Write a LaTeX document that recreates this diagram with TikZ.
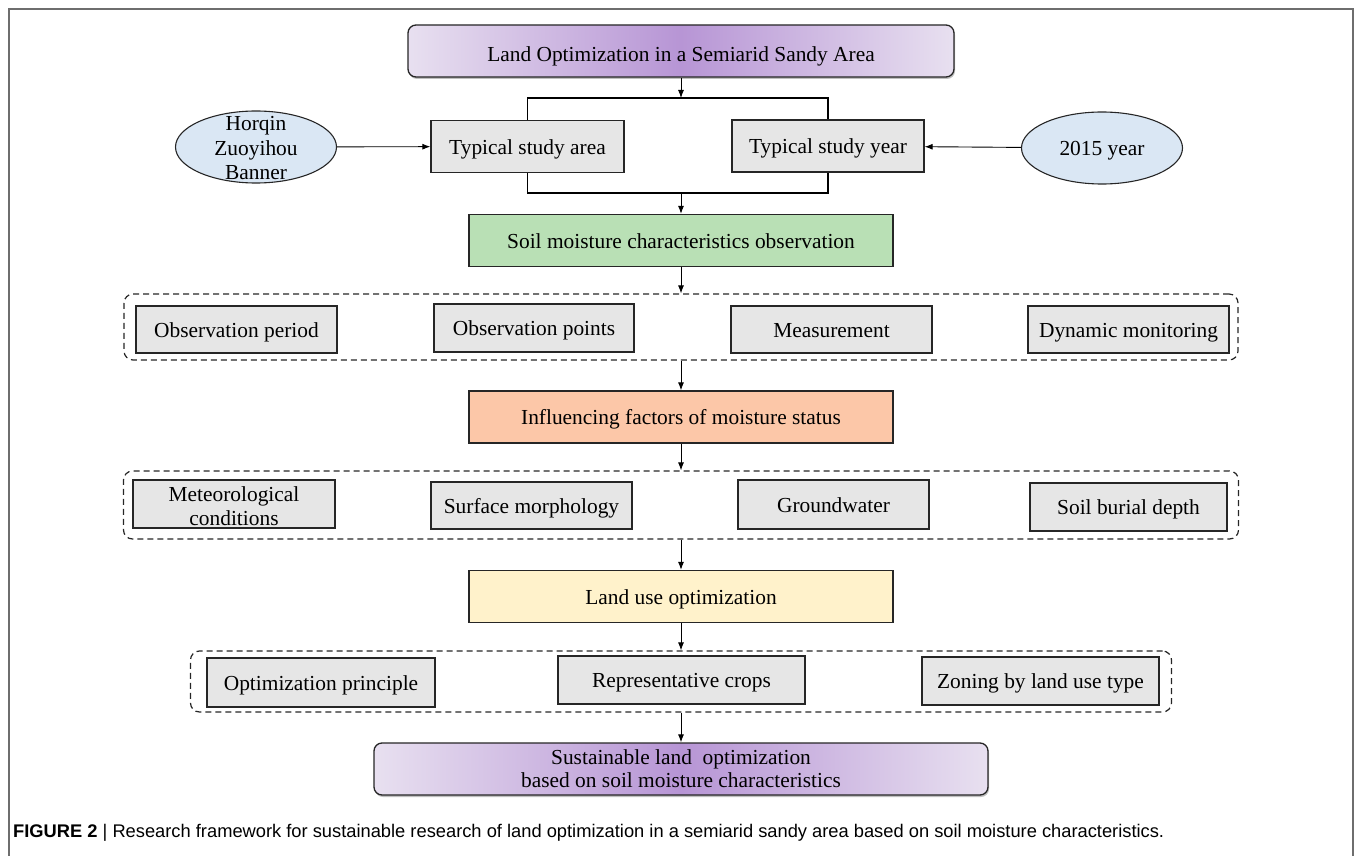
\documentclass[tikz,border=0pt]{standalone}
\usepackage{fontspec}
\setmainfont{Liberation Serif}
\newfontfamily\capfont{Liberation Sans}
\usetikzlibrary{arrows.meta,shapes.geometric,shadows}
\tikzset{>={Latex[length=8pt,width=6pt]}}

\definecolor{boxgray}{HTML}{E6E6E6}
\definecolor{soilgreen}{HTML}{B9E0B5}
\definecolor{factorange}{HTML}{FCC7A8}
\definecolor{landyellow}{HTML}{FFF2CB}
\definecolor{siteblue}{HTML}{DAE7F4}
\definecolor{purpedge}{HTML}{E8E0F0}
\definecolor{purpmid}{HTML}{B795D5}
\definecolor{framegray}{HTML}{6E6E6E}

\tikzset{
  txt/.style={font=\fontsize{21.4}{24}\selectfont},
  item/.style={txt, draw=black!85, line width=1.3pt, fill=boxgray, inner sep=0pt, align=center,
    text height=19pt, text depth=4pt},
  stage/.style={item, minimum width=424, minimum height=52},
  title/.style={txt, draw=black!85, line width=1.3pt, rounded corners=8pt,
    left color=purpedge, right color=purpedge, middle color=purpmid,
    inner sep=0pt, align=center,
    drop shadow={shadow xshift=1pt, shadow yshift=-2pt, opacity=0.5}},
  site/.style={txt, ellipse, draw=black!85, line width=1.1pt, fill=siteblue,
    minimum width=161, minimum height=72, inner sep=0pt},
  group/.style={draw=black!85, line width=1.2pt, dash pattern=on 6pt off 4pt,
    rounded corners=9pt, inner sep=0pt},
  arr/.style={->, line width=0.9pt},
  link/.style={line width=1.3pt}
}

\begin{document}
\begin{tikzpicture}[x=1pt, y=-1pt]
    \useasboundingbox (0,0) rectangle (1355,856);

    % Frame
    \draw[framegray, line width=1.5pt] (9,856) -- (9,9) -- (1353,9) -- (1353,856);

    % Heading
    \node[title, minimum width=546, minimum height=52, text height=25pt, text depth=4pt] (top) at (681,51)
        {Land Optimization in a Semiarid Sandy Area};

    % Typical study area and year
    \node[item, minimum width=193, minimum height=52] (area) at (527.5,146.5) {Typical study area};
    \node[item, minimum width=192, minimum height=52] (year) at (828,146) {Typical study year};
    \node[site] (horqin) at (256,147) {};
    \node[txt, align=center, font=\fontsize{21.4}{24.5}\selectfont] (horqintxt) at (256,148.5) {Horqin\\Zuoyihou\\Banner};
    \node[site, text height=20pt, text depth=4pt] (y2015) at (1102,148) {2015 year};

    \coordinate (brT) at (681,98);
    \coordinate (brB) at (681,193);

    % Stages
    \node[stage, fill=soilgreen] (soil) at (681,240.5) {Soil moisture characteristics observation};
    \node[stage, fill=factorange] (factors) at (681,417) {Influencing factors of moisture status};
    \node[stage, fill=landyellow] (landuse) at (681,596.5) {Land use optimization};

    % Observation group
    \node[group, minimum width=1114, minimum height=66] (grp1) at (681,327) {};
    \node[item, minimum width=201, minimum height=47] (period) at (236.5,329.5) {Observation period};
    \node[item, minimum width=200, minimum height=48] (points) at (534,328) {Observation points};
    \node[item, minimum width=201, minimum height=47] (measure) at (831.5,329.5) {Measurement};
    \node[item, minimum width=201, minimum height=47] (dynamic) at (1128.5,329.5) {Dynamic monitoring};

    % Factor group
    \node[group, minimum width=1115, minimum height=68] (grp2) at (681,505) {};
    \node[item, minimum width=202, minimum height=48, text height=, text depth=] (meteo) at (234,504) {};
    \node[txt, align=center, font=\fontsize{21.4}{24.5}\selectfont] (meteotxt) at (234,506) {Meteorological\\conditions};
    \node[item, minimum width=201, minimum height=47] (surface) at (531.5,505.5) {Surface morphology};
    \node[item, minimum width=191, minimum height=49] (ground) at (833.5,504.5) {Groundwater};
    \node[item, minimum width=197, minimum height=48] (burial) at (1128.5,507) {Soil burial depth};

    % Land use group
    \node[group, minimum width=981, minimum height=61] (grp3) at (681,681.5) {};
    \node[item, minimum width=228, minimum height=49] (principle) at (321,682.5) {Optimization principle};
    \node[item, minimum width=247, minimum height=48] (crops) at (681.5,680) {Representative crops};
    \node[item, minimum width=237, minimum height=48] (zoning) at (1040.5,681) {Zoning by land use type};

    % Result
    \node[title, minimum width=614, minimum height=52, font=\fontsize{21.4}{23}\selectfont] (final) at (681,769)
        {Sustainable land\ \ optimization\\based on soil moisture characteristics};

    % Connectors
    \draw[arr] (top) -- (brT);
    \draw[link] (area.north) |- (brT) -| (year.north);
    \draw[link] (area.south) |- (brB) -| (year.south);
    \draw[arr] (horqin) -- (area);
    \draw[arr] (y2015) -- (year);
    \draw[arr] (brB) -- (soil);
    \draw[arr] (soil) -- (grp1);
    \draw[arr] (grp1) -- (factors);
    \draw[arr] (factors) -- (grp2);
    \draw[arr] (grp2) -- (landuse);
    \draw[arr] (landuse) -- (grp3);
    \draw[arr] (grp3) -- (final);

    % Caption
    \node[anchor=base west, inner sep=0pt, font=\capfont\fontsize{18.3}{20}\selectfont] (caption) at (13,837)
        {{\bfseries FIGURE 2} \textbar{} Research framework for sustainable research of land optimization in a semiarid sandy area based on soil moisture characteristics.};
\end{tikzpicture}
\end{document}
